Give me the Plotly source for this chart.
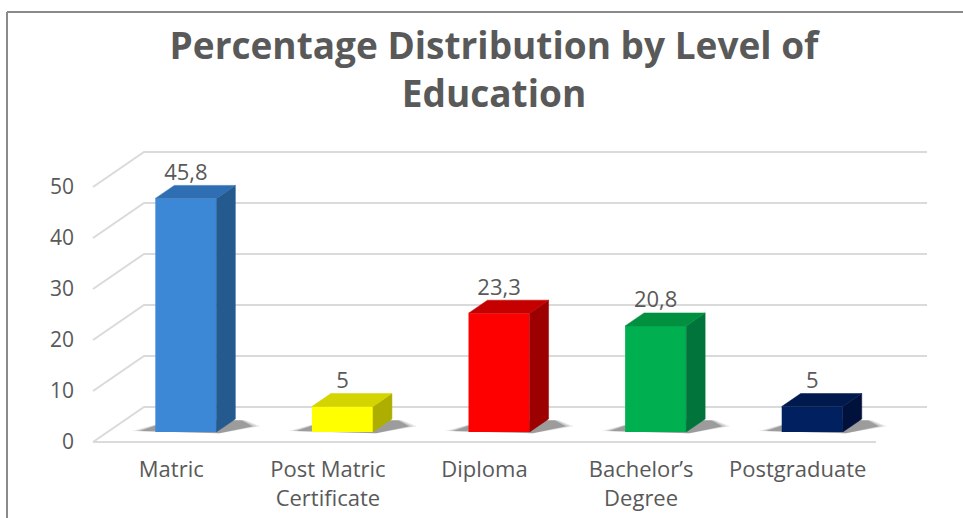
import plotly.graph_objects as go

# ---- data -------------------------------------------------------------
categories = ["Matric", "Post Matric<br>Certificate", "Diploma",
              "Bachelor’s<br>Degree", "Postgraduate"]
percentages = [45.8, 5, 23.3, 20.8, 5]
y_ticks = [0, 10, 20, 30, 40, 50]

front_colors = ["#3c88d7", "#ffff00", "#ff0000", "#00b050", "#002060"]
side_colors = ["#255a8f", "#aeae00", "#9c0000", "#00743a", "#00123c"]
top_colors = ["#2f6eb2", "#d4d400", "#c40000", "#00903f", "#001a4e"]

# ---- geometry of the oblique 3-D view ---------------------------------
W, H = 963, 518
PLOT_L, PLOT_R, PLOT_T, PLOT_B = 75, 943, 125, 454
CAT_PX = 156.6          # pixels per category slot
VAL_PX = 5.1            # pixels per percentage point
CAT0_PX = 171.3         # pixel x of the first category (front plane)
ZERO_PX = 442           # pixel y of value 0 (front plane)
DEPTH_DX_PX, DEPTH_DY_PX = 51, 35   # floor depth, front edge -> back wall
BAR_FRONT_D, BAR_BACK_D = 10 / 35, 23 / 35   # bar depth as fraction of floor
BAR_W = 0.39

x_range = [(PLOT_L - CAT0_PX) / CAT_PX, (PLOT_R - CAT0_PX) / CAT_PX]
y_range = [(ZERO_PX - PLOT_B) / VAL_PX, (ZERO_PX - PLOT_T) / VAL_PX]
DX = DEPTH_DX_PX / CAT_PX      # depth offset in category units
DY = DEPTH_DY_PX / VAL_PX      # depth offset in value units

n = len(categories)
x_left, x_right = -0.5, n - 0.5

TEXT = "#595959"
GRID = "#dadada"
FONT = "Open Sans"

shapes = []
# L-shaped gridlines: slanted along the side wall, horizontal on the back wall
for v in y_ticks:
    shapes.append(dict(
        type="path", xref="x", yref="y", layer="below",
        path=f"M {x_left},{v} L {x_left + DX},{v + DY} L {x_right + DX},{v + DY}",
        line=dict(color=GRID, width=2),
    ))
# front edge of the floor
shapes.append(dict(type="line", xref="x", yref="y", layer="below",
                   x0=x_left, y0=0, x1=x_right, y1=0,
                   line=dict(color=GRID, width=2)))

bx = [i + BAR_FRONT_D * DX for i in range(n)]     # front-face centres
base = BAR_FRONT_D * DY
sdx = (BAR_BACK_D - BAR_FRONT_D) * DX
sdy = (BAR_BACK_D - BAR_FRONT_D) * DY
hw = BAR_W / 2

# soft floor shadows around the foot of every bar (layers for a soft edge)
for i in range(n):
    xl, xr = bx[i] - hw, bx[i] + hw
    for grow, alpha in ((0.05, 0.10), (0.025, 0.16), (0.0, 0.28)):
        shapes.append(dict(
            type="path", xref="x", yref="y", layer="below",
            path=(f"M {xl - 0.10 - grow},{base + 0.2} "
                  f"L {xr + 0.02},{base - 0.25} "
                  f"L {xr + sdx + 0.11 + grow},{base + sdy * 0.45} "
                  f"L {xr + sdx + 0.04 + grow / 2},{base + sdy * 0.9} "
                  f"L {xl + sdx - 0.02},{base + sdy * 0.9} Z"),
            fillcolor=f"rgba(40,40,40,{alpha})", line=dict(width=0),
        ))

fig = go.Figure()

# front faces of the bars
fig.add_trace(go.Bar(
    x=bx, y=percentages, base=base, width=BAR_W,
    marker=dict(color=front_colors, line=dict(width=0)),
    hoverinfo="skip", showlegend=False,
))

# side and top faces
for i, v in enumerate(percentages):
    xl, xr = bx[i] - hw, bx[i] + hw
    top = base + v
    fig.add_trace(go.Scatter(
        x=[xr, xr + sdx, xr + sdx, xr, xr],
        y=[base, base + sdy, top + sdy, top, base],
        mode="lines", fill="toself", fillcolor=side_colors[i],
        line=dict(width=0.5, color=side_colors[i]),
        hoverinfo="skip", showlegend=False,
    ))
    fig.add_trace(go.Scatter(
        x=[xl, xr, xr + sdx, xl + sdx, xl],
        y=[top, top, top + sdy, top + sdy, top],
        mode="lines", fill="toself", fillcolor=top_colors[i],
        line=dict(width=0.5, color=top_colors[i]),
        hoverinfo="skip", showlegend=False,
    ))

# value labels (decimal comma)
labels = [f"{v:g}".replace(".", ",") for v in percentages]
fig.add_trace(go.Scatter(
    x=bx, y=[base + v + sdy for v in percentages],
    mode="text", text=labels, textposition="top center",
    textfont=dict(family=FONT, size=22, color=TEXT),
    hoverinfo="skip", showlegend=False,
))

# chart frame
def paper_x(px):
    return (px - PLOT_L) / (PLOT_R - PLOT_L)

def paper_y(py):
    return (PLOT_B - py) / (PLOT_B - PLOT_T)

frame = dict(color="#8a8a8a", width=2)
shapes.append(dict(type="line", xref="paper", yref="paper",
                   x0=paper_x(7), y0=paper_y(12), x1=paper_x(W + 5), y1=paper_y(12),
                   line=frame, layer="above"))
shapes.append(dict(type="line", xref="paper", yref="paper",
                   x0=paper_x(7), y0=paper_y(12), x1=paper_x(7), y1=paper_y(H + 5),
                   line=frame, layer="above"))

fig.update_layout(
    width=W, height=H,
    margin=dict(l=PLOT_L, r=W - PLOT_R, t=PLOT_T, b=H - PLOT_B, autoexpand=False),
    paper_bgcolor="white", plot_bgcolor="white",
    title=dict(
        text="Percentage Distribution by Level of<br>Education",
        x=494 / W, xanchor="center", xref="container",
        y=1 - 59 / H, yanchor="middle", yref="container",
        font=dict(family=FONT, size=37, color=TEXT, weight=700),
    ),
    shapes=shapes,
    xaxis=dict(range=x_range, tickvals=list(range(n)), ticktext=categories,
               showgrid=False, zeroline=False, showline=False, ticks="",
               automargin=False,
               tickfont=dict(family=FONT, size=22, color=TEXT), fixedrange=True),
    yaxis=dict(range=y_range, tickvals=y_ticks, ticktext=[str(t) for t in y_ticks],
               showgrid=False, zeroline=False, showline=False, ticks="",
               automargin=False,
               tickfont=dict(family=FONT, size=21, color=TEXT), fixedrange=True),
    showlegend=False,
)

fig.write_html("out.html")
